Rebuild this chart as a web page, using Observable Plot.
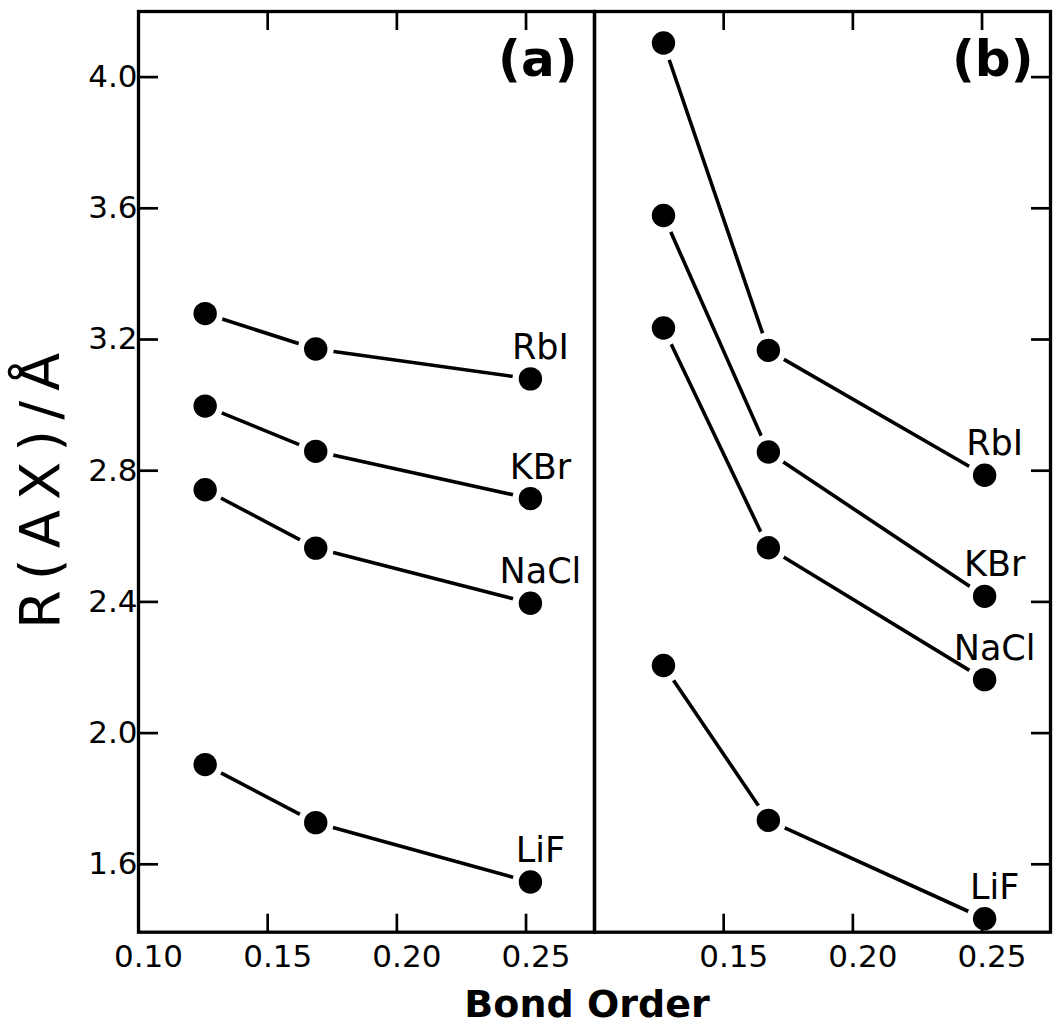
<!DOCTYPE html>
<html><head><meta charset="utf-8">
<script src="https://cdn.jsdelivr.net/npm/d3@7"></script>
<script src="https://cdn.jsdelivr.net/npm/@observablehq/plot@0.6"></script>
<style>
body{margin:0;background:#fff;}
</style>
</head><body><div id="chart"></div>
<script>
const panels = ["(a)", "(b)"];
const salts = ["RbI", "KBr", "NaCl", "LiF"];
const bondOrderA = [0.1258, 0.1686, 0.2517];
const bondOrderB = [0.1267, 0.1673, 0.2510];
const rbiA = [3.279, 3.171, 3.080];
const kbrA = [2.997, 2.859, 2.715];
const naclA = [2.742, 2.564, 2.396];
const lifA = [1.904, 1.727, 1.546];
const rbiB = [4.104, 3.167, 2.786];
const kbrB = [3.578, 2.857, 2.417];
const naclB = [3.235, 2.565, 2.163];
const lifB = [2.206, 1.734, 1.434];
const xTicks = [0.10, 0.15, 0.20, 0.25];
const yTicks = [1.6, 2.0, 2.4, 2.8, 3.2, 3.6, 4.0];
const xLabel = "Bond Order";
const yLabel = "R(AX)/Å";

const seriesA = [rbiA, kbrA, naclA, lifA];
const seriesB = [rbiB, kbrB, naclB, lifB];
const rows = [];
[[panels[0], bondOrderA, seriesA], [panels[1], bondOrderB, seriesB]].forEach(([panel, xs, ser]) => {
  ser.forEach((vals, i) => vals.forEach((v, j) => rows.push({panel, salt: salts[i], bond: xs[j], r: v, last: j === xs.length - 1})));
});
const lastRows = rows.filter(d => d.last);

const FONT = "DejaVu Sans";
const chart = Plot.plot({
  width: 1056, height: 1027,
  marginLeft: 137.7, marginRight: 6, marginTop: 11, marginBottom: 95.3,
  style: {fontFamily: FONT, background: "white", color: "black", overflow: "visible"},
  fx: {domain: panels, padding: 0, axis: null},
  x: {domain: [0.10, 0.2765], axis: null},
  y: {domain: [1.393, 4.200], axis: null},
  marks: [
    Plot.line(rows, {fx: "panel", x: "bond", y: "r", z: "salt", stroke: "black", strokeWidth: 3.6}),
    Plot.dot(rows, {fx: "panel", x: "bond", y: "r", r: 18, fill: "white"}),
    Plot.frame({stroke: "black", strokeWidth: 3.3}),
    Plot.axisY(yTicks, {anchor: "left", tickSize: -20, tickPadding: 21, strokeWidth: 2.7, fontSize: 31, tickFormat: d3.format(".1f"), label: null}),
    Plot.axisY(yTicks, {anchor: "right", tickSize: -20, strokeWidth: 2.7, tickFormat: () => "", label: null}),
    Plot.axisX(xTicks.slice(1), {anchor: "bottom", tickSize: -18, strokeWidth: 2.7, tickFormat: () => "", label: null}),
    Plot.axisX(xTicks.slice(1), {anchor: "top", tickSize: -18, strokeWidth: 2.7, tickFormat: () => "", label: null}),
    Plot.axisX(xTicks.slice(1), {anchor: "bottom", tickSize: 0, tickPadding: 13, dx: 10, fontSize: 31, tickFormat: d3.format(".2f"), label: null}),
    Plot.axisX(xTicks.slice(0, 1), {anchor: "bottom", tickSize: 0, tickPadding: 13, dx: 10, fontSize: 31, tickFormat: d3.format(".2f"), label: null, facetAnchor: "left"}),
    Plot.dot(rows, {fx: "panel", x: "bond", y: "r", r: 11.7, fill: "black"}),
    Plot.text(lastRows, {fx: "panel", x: "bond", y: "r", text: "salt", dx: 10, dy: -20, lineAnchor: "bottom", fontSize: 35}),
    Plot.text(panels, {fx: d => d, text: d => d, frameAnchor: "top-right", textAnchor: "end", lineAnchor: "top", dx: -17, dy: 29, fontSize: 50, fontWeight: "bold"}),
    Plot.text([yLabel], {fx: [panels[0]], text: d => d, frameAnchor: "left", textAnchor: "middle", rotate: -90, dx: -97, dy: 14, fontSize: 56}),
    Plot.text([xLabel], {fx: [panels[0]], text: d => d, frameAnchor: "bottom-right", dx: -7.5, dy: 85, lineAnchor: "bottom", textAnchor: "middle", fontSize: 38, fontWeight: "bold"})
  ]
});
chart.querySelectorAll("text").forEach(t => {
  if (t.textContent === yLabel) t.style.letterSpacing = "10px";
});
document.getElementById("chart").appendChild(chart);
</script>
</body></html>
